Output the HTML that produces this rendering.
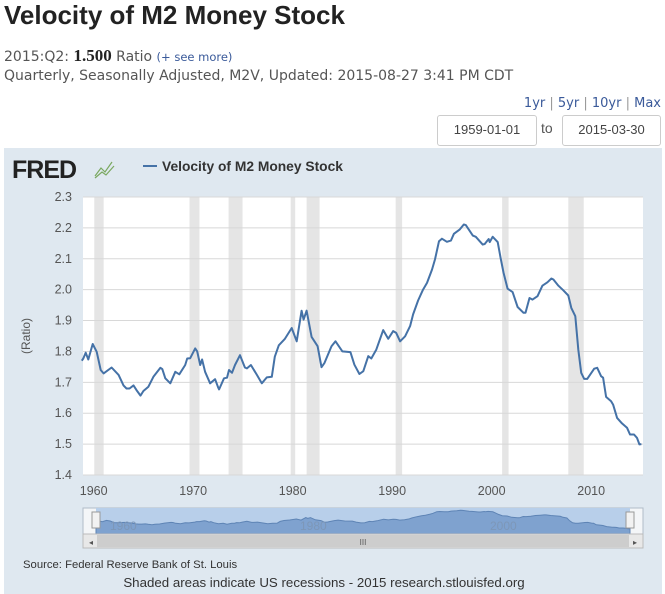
<!DOCTYPE html>
<html><head><meta charset="utf-8">
<style>
body{margin:0;width:665px;height:594px;background:#fff;font-family:"Liberation Sans",sans-serif;position:relative;overflow:hidden;color:#555}
.a{position:absolute;white-space:nowrap}
.box{position:absolute;border:1px solid #ccc;border-radius:3px;background:#fff;font-size:13px;color:#444;text-align:center;line-height:28px}
a{color:#3a5a9a;text-decoration:none}
</style></head><body>
<div class="a" style="left:4px;top:0px;font-size:26px;font-weight:bold;color:#222">Velocity of M2 Money Stock</div>
<div class="a" style="left:4px;top:46px;font-size:14px;font-family:'DejaVu Sans',sans-serif">2015:Q2: <b style="font-family:'Liberation Serif',serif;font-size:17px;color:#222">1.500</b> Ratio <a style="font-size:11.5px">(+ see more)</a></div>
<div class="a" style="left:4px;top:68px;font-size:14px;font-family:'DejaVu Sans',sans-serif">Quarterly, Seasonally Adjusted, M2V, Updated: 2015-08-27 3:41 PM CDT</div>
<div class="a" style="right:4px;top:96px;font-size:13px;font-family:'DejaVu Sans',sans-serif;color:#999"><a>1yr</a> | <a>5yr</a> | <a>10yr</a> | <a>Max</a></div>
<div class="box" style="left:437px;top:115px;width:98px;height:29px">1959-01-01</div>
<div class="a" style="left:541px;top:120px;font-size:14px">to</div>
<div class="box" style="left:562px;top:115px;width:97px;height:29px">2015-03-30</div>
<svg id="chart" width="665" height="594" style="position:absolute;left:0;top:0" xmlns="http://www.w3.org/2000/svg" font-family="Liberation Sans, sans-serif">
<rect x="4" y="148" width="658" height="446" fill="#dfe8f0"/>
<text x="12" y="178" font-size="25" font-weight="bold" fill="#222" letter-spacing="-1">FRED</text>
<path d="M95,176 L101,168 L105,172 L112,162 M95,178 L102,172 L106,175 L114,166" fill="none" stroke="#7aa860" stroke-width="1.2"/>
<line x1="143" y1="166" x2="157" y2="166" stroke="#4572a7" stroke-width="2"/>
<text x="162" y="171" font-size="13.8" font-weight="bold" fill="#333">Velocity of M2 Money Stock</text>
<rect x="83" y="197" width="560" height="278" fill="#fff"/>
<g id="rec"></g><g id="grid"></g><g id="yl"></g><g id="xl"></g>
<path id="line" fill="none" stroke="#4572a7" stroke-width="2" stroke-linejoin="round"/>
<text transform="translate(30,336) rotate(-90)" text-anchor="middle" font-size="12" fill="#555">(Ratio)</text>
<rect x="83" y="508" width="560" height="26" fill="#f4f6f8" stroke="#b0bcc8"/>
<rect x="96" y="508" width="534" height="26" fill="#b8cfea"/>
<path id="nav" fill="#7fa2cf" stroke="#5e84b5"/>
<text x="110" y="530" font-size="12" fill="#7d97b8">1960</text>
<text x="300" y="530" font-size="12" fill="#7d97b8">1980</text>
<text x="490" y="530" font-size="12" fill="#7d97b8">2000</text>
<rect x="92" y="512" width="8" height="16" fill="#f2f2f2" stroke="#999"/>
<rect x="626" y="512" width="8" height="16" fill="#f2f2f2" stroke="#999"/>
<rect x="83" y="534" width="560" height="14" fill="#e8e8e8" stroke="#bbb"/>
<rect x="97" y="535" width="532" height="12" fill="#cdcdcd"/>
<text x="89" y="545" font-size="8" fill="#555">◂</text>
<text x="633" y="545" font-size="8" fill="#555">▸</text>
<text x="363" y="545" font-size="8" fill="#555" text-anchor="middle">III</text>
<text x="23" y="568" font-size="11.3" fill="#333">Source: Federal Reserve Bank of St. Louis</text>
<text x="324" y="587" font-size="13.3" fill="#333" text-anchor="middle">Shaded areas indicate US recessions - 2015 research.stlouisfed.org</text>
</svg>
<script>
const years=[1959,1959.16,1959.4,1959.66,1960.1,1960.5,1960.9,1961.2,1962.0,1962.7,1963.2,1963.5,1963.8,1964.2,1964.5,1964.9,1965.2,1965.7,1966.2,1966.9,1967.1,1967.4,1967.9,1968.4,1968.8,1969.4,1969.6,1969.9,1970.4,1970.6,1970.9,1971.1,1971.4,1971.9,1972.4,1972.7,1972.8,1973.3,1973.6,1973.8,1974.1,1974.4,1974.9,1975.4,1975.6,1976.0,1976.6,1977.1,1977.6,1978.1,1978.4,1978.8,1979.4,1980.1,1980.6,1981.1,1981.3,1981.6,1982.1,1982.7,1983.1,1983.4,1984.1,1984.5,1985.2,1986.0,1986.4,1986.9,1987.3,1987.8,1988.1,1988.6,1989.3,1989.8,1990.3,1990.6,1991.0,1991.5,1992.0,1992.3,1992.8,1993.3,1993.7,1994.2,1994.5,1994.9,1995.2,1995.7,1996.1,1996.4,1997.0,1997.4,1997.6,1998.3,1998.6,1999.3,1999.5,1999.9,2000.0,2000.3,2000.8,2001.1,2001.4,2001.8,2002.3,2002.8,2003.4,2003.6,2004.0,2004.3,2004.8,2005.3,2005.8,2006.2,2006.4,2006.9,2007.4,2007.9,2008.2,2008.6,2008.9,2009.2,2009.5,2009.8,2010.5,2010.8,2011.2,2011.4,2011.7,2012.2,2012.4,2012.8,2013.3,2013.8,2014.1,2014.5,2014.8,2015.05,2015.25];
const values=[1.77,1.777,1.796,1.774,1.824,1.799,1.74,1.729,1.748,1.724,1.69,1.68,1.68,1.69,1.675,1.657,1.672,1.686,1.718,1.747,1.743,1.713,1.697,1.734,1.726,1.756,1.777,1.778,1.81,1.80,1.756,1.774,1.734,1.697,1.71,1.684,1.677,1.713,1.715,1.74,1.731,1.756,1.788,1.748,1.745,1.756,1.724,1.697,1.716,1.718,1.783,1.82,1.84,1.876,1.833,1.932,1.903,1.932,1.847,1.817,1.749,1.763,1.817,1.833,1.80,1.798,1.757,1.727,1.736,1.785,1.777,1.806,1.869,1.841,1.866,1.86,1.833,1.849,1.882,1.92,1.965,2.0,2.022,2.065,2.098,2.157,2.165,2.155,2.159,2.181,2.195,2.211,2.209,2.175,2.171,2.146,2.148,2.164,2.154,2.171,2.154,2.103,2.054,2.003,1.992,1.944,1.925,1.925,1.973,1.968,1.979,2.013,2.024,2.036,2.033,2.013,1.998,1.981,1.941,1.914,1.806,1.731,1.711,1.711,1.744,1.747,1.72,1.715,1.653,1.639,1.628,1.585,1.567,1.553,1.531,1.531,1.52,1.499,1.50];
const recStart=[1960.26,1969.83,1973.76,1980.0,1981.6,1990.55,2001.25,2007.9];
const recEnd=[1961.2,1970.83,1975.16,1980.45,1982.9,1991.2,2001.9,2009.45];
const yTicks=[1.4,1.5,1.6,1.7,1.8,1.9,2.0,2.1,2.2,2.3];
const xTicks=[1960,1970,1980,1990,2000,2010];
const NS="http://www.w3.org/2000/svg";
const X=y=>91.7+(y-1960)*9.95;
const Y=v=>475-(v-1.4)/0.9*278;
const NX=y=>96+(y-1959)/(2015.25-1959)*534;
const NY=v=>534-(v-1.3)/1.0*26;
function mk(t,p,a){const e=document.createElementNS(NS,t);for(const k in a)e.setAttribute(k,a[k]);p.appendChild(e);return e;}
const rec=document.getElementById('rec');
recStart.forEach((s,i)=>{const r=mk('rect',rec,{x:X(s),y:197,width:X(recEnd[i])-X(s),height:278,fill:'#e5e5e5'});

});
const g=document.getElementById('grid'),yl=document.getElementById('yl'),xl=document.getElementById('xl');
yTicks.forEach(v=>{const l=mk('line',g,{x1:83,x2:643,y1:Y(v),y2:Y(v),stroke:'#d8d8d8'});


const t=mk('text',yl,{x:72,y:Y(v)+4,'text-anchor':'end','font-size':12.5,fill:'#555'});t.textContent=v.toFixed(1);

});
xTicks.forEach(y=>{const t=mk('text',xl,{x:X(y)+2,y:495,'text-anchor':'middle','font-size':12.5,fill:'#555'});t.textContent=y;

});
document.getElementById('line').setAttribute('d',years.map((y,i)=>(i?'L':'M')+X(y).toFixed(1)+','+Y(values[i]).toFixed(1)).join(''));
document.getElementById('nav').setAttribute('d','M'+NX(years[0])+',534'+years.map((y,i)=>'L'+NX(y).toFixed(1)+','+NY(values[i]).toFixed(1)).join('')+'L'+NX(years[years.length-1])+',534Z');
</script>
</body></html>
